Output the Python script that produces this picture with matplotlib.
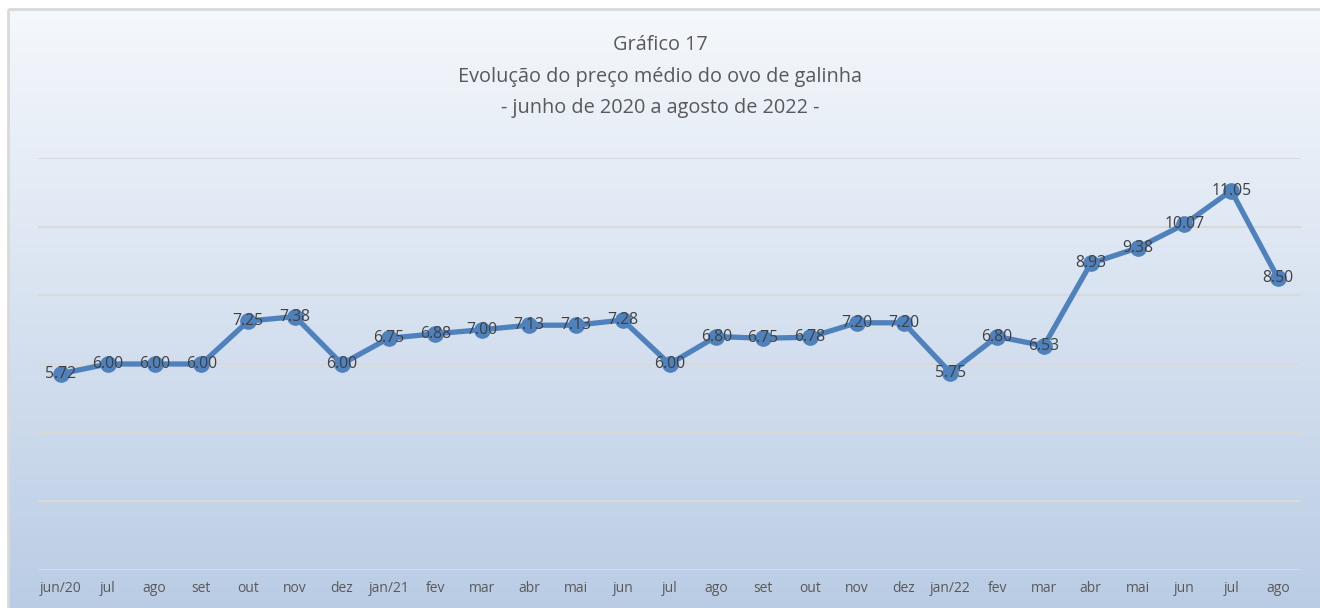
import numpy as np
import matplotlib.pyplot as plt
from matplotlib.patches import Rectangle

plt.rcParams['font.family'] = ['Open Sans', 'DejaVu Sans']

# dados
meses = ['jun/20', 'jul', 'ago', 'set', 'out', 'nov', 'dez', 'jan/21', 'fev',
         'mar', 'abr', 'mai', 'jun', 'jul', 'ago', 'set', 'out', 'nov', 'dez',
         'jan/22', 'fev', 'mar', 'abr', 'mai', 'jun', 'jul', 'ago']
precos = [5.72, 6.00, 6.00, 6.00, 7.25, 7.38, 6.00, 6.75, 6.88, 7.00, 7.13,
          7.13, 7.28, 6.00, 6.80, 6.75, 6.78, 7.20, 7.20, 5.75, 6.80, 6.53,
          8.93, 9.38, 10.07, 11.05, 8.50]

W, H = 1320, 608
fig = plt.figure(figsize=(W / 100, H / 100), dpi=100)

# fundo com degradê
bg = fig.add_axes([0, 0, 1, 1])
bg.set_xlim(0, W)
bg.set_ylim(H, 0)
bg.axis('off')
top = np.array([245, 248, 252]) / 255
bot = np.array([184, 203, 228]) / 255
t = np.linspace(0, 1, 256)[:, None]
grad = (top * (1 - t) + bot * t)[:, None, :]
bg.imshow(grad, extent=[8, W + 20, H + 20, 9], aspect='auto', zorder=0)
bg.add_patch(Rectangle((8, 9), W + 20, H + 20, fill=False,
                       edgecolor='#d9d9d9', linewidth=2, zorder=1))

# títulos
cor_txt = '#595959'
fig.text(0.5, 1 - 45 / H, 'Gráfico 17', ha='center', va='center',
         fontsize=14.3, color=cor_txt)
fig.text(0.5, 1 - 77 / H, 'Evolução do preço médio do ovo de galinha',
         ha='center', va='center', fontsize=14.3, color=cor_txt)
fig.text(0.5, 1 - 108 / H, '- junho de 2020 a agosto de 2022 -',
         ha='center', va='center', fontsize=14.3, color=cor_txt)

# gráfico
ax = fig.add_axes([37.6 / W, (H - 570) / H, 1263.8 / W, 412 / H])
ax.patch.set_alpha(0)
x = np.arange(len(meses))
ax.plot(x, precos, color='#4f81bd', linewidth=3.8, marker='o',
        markersize=11, solid_capstyle='round', zorder=3)
for xi, yi in zip(x, precos):
    ax.annotate(f'{yi:.2f}', (xi, yi), ha='center', va='center',
                fontsize=11.3, color='#404040', zorder=4)

ax.set_xlim(-0.5, len(meses) - 0.5)
ax.set_ylim(0, 12)
ax.set_yticks(np.arange(0, 13, 2))
ax.yaxis.grid(True, color='#d9d9d9', linewidth=1.5, zorder=1)
ax.set_axisbelow(True)
ax.set_xticks(x)
ax.set_xticklabels(meses, fontsize=10, color=cor_txt)
ax.tick_params(axis='x', length=0, pad=8)
ax.tick_params(axis='y', length=0, labelleft=False)
for s in ax.spines.values():
    s.set_visible(False)

fig.savefig('out.png', dpi=100)
